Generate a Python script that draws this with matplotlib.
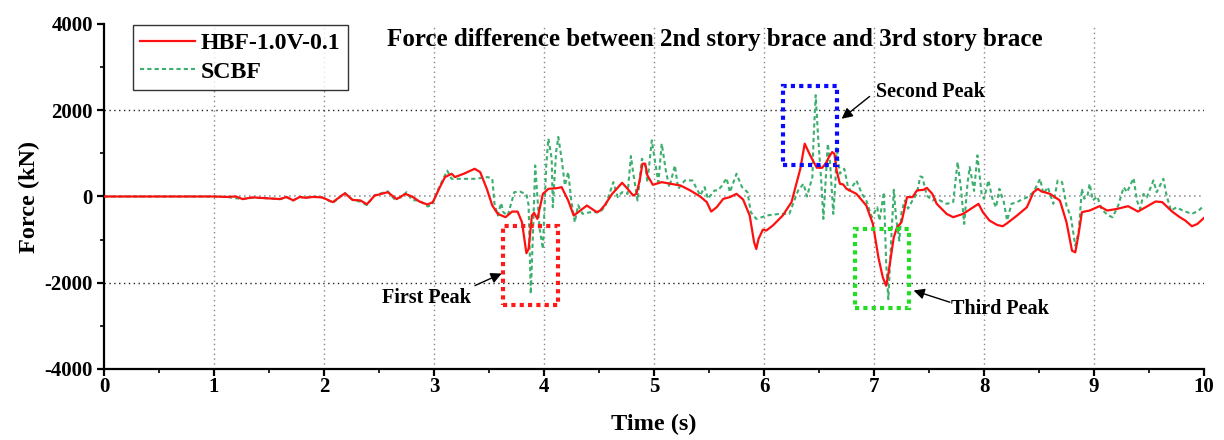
import matplotlib
matplotlib.use("Agg")
import matplotlib.pyplot as plt
from matplotlib.patches import Rectangle
from matplotlib.ticker import MultipleLocator

plt.rcParams['font.family'] = ['Liberation Serif', 'DejaVu Serif']
plt.rcParams['font.weight'] = 'bold'
plt.rcParams['axes.unicode_minus'] = False

# ---------------- data ----------------
t_hbf = [0, 0.5, 1.0, 1.11, 1.2, 1.26, 1.35, 1.48, 1.6, 1.66, 1.72, 1.78, 1.83, 1.9, 1.98,
         2.01, 2.08, 2.19, 2.26, 2.33, 2.39, 2.46, 2.58, 2.66, 2.74, 2.8, 2.87, 2.94, 2.99,
         3.05, 3.10, 3.16, 3.19, 3.27, 3.37, 3.42, 3.48, 3.53, 3.58, 3.65, 3.71, 3.76, 3.80,
         3.84, 3.86, 3.89, 3.91, 3.94, 3.99, 4.04, 4.12, 4.16, 4.22, 4.27, 4.33, 4.39, 4.48,
         4.51, 4.55, 4.62, 4.71, 4.76, 4.81, 4.84, 4.87, 4.895, 4.92, 4.94, 4.99, 5.07, 5.15,
         5.24, 5.33, 5.42, 5.48, 5.52, 5.57, 5.63, 5.69, 5.75, 5.81, 5.87, 5.91, 5.93, 5.95,
         5.99, 6.02, 6.08, 6.17, 6.25, 6.29, 6.33, 6.37, 6.42, 6.48, 6.53, 6.57, 6.59, 6.62,
         6.64, 6.66, 6.69, 6.72, 6.75, 6.84, 6.93, 6.99, 7.04, 7.08, 7.11, 7.13, 7.18, 7.21,
         7.25, 7.30, 7.35, 7.39, 7.45, 7.48, 7.53, 7.57, 7.66, 7.72, 7.81, 7.95, 7.99, 8.05,
         8.12, 8.17, 8.21, 8.30, 8.39, 8.45, 8.49, 8.52, 8.60, 8.69, 8.75, 8.80, 8.83, 8.86,
         8.89, 8.93, 8.96, 9.05, 9.12, 9.21, 9.31, 9.40, 9.48, 9.56, 9.62, 9.71, 9.78, 9.83,
         9.89, 9.94, 10.0]
f_hbf = [0, 0, 0, -10, 0, -60, -20, -40, -60, -10, -90, -10, -30, -10, -20,
         -50, -130, 75, -80, -90, -180, 20, 100, -60, 60, 0, -120, -186, -130,
         200, 450, 527, 450, 527, 643, 565, 178, -209, -403, -480, -350, -350, -597,
         -1315, -1217, -442, -380, -519, 62, 178, 194, 217, -93, -442, -326, -209, -364,
         -326, -209, 62, 318, 178, 23, 62, 372, 760, 760, 488, 271, 333, 295,
         256, 140, 0, -131, -350, -248, -54, -15, 62, -70, -442, -1062, -1217, -985,
         -767, -790, -674, -442, -131, 250, 640, 1225, 953, 667, 667, 798, 915, 1031,
         990, 605, 295, 279, 178, 62, -209, -636, -1411, -1876, -2070, -1798, -946, -713,
         -597, -15, -15, 140, 155, 200, 62, -170, -403, -480, -403, -170, -364, -558,
         -660, -690, -620, -442, -248, 100, 178, 120, 62, -93, -597, -1256, -1295, -868,
         -364, -340, -326, -225, -326, -287, -225, -349, -233, -116, -130, -349, -480, -558,
         -690, -636, -496]

t_scbf = [0, 0.5, 1.0, 1.11, 1.26, 1.35, 1.48, 1.6, 1.66, 1.72, 1.78, 1.83, 1.9, 1.98, 2.01,
          2.08, 2.19, 2.26, 2.33, 2.39, 2.46, 2.58, 2.64, 2.70, 2.75, 2.80, 2.87, 2.94, 2.98,
          3.04, 3.12, 3.16, 3.27, 3.37, 3.49, 3.53, 3.55, 3.58, 3.61, 3.63, 3.67, 3.73, 3.78,
          3.84, 3.86, 3.88, 3.90, 3.92, 3.94, 3.96, 3.99, 4.02, 4.04, 4.07, 4.08, 4.11, 4.13,
          4.16, 4.19, 4.22, 4.25, 4.28, 4.31, 4.35, 4.42, 4.51, 4.56, 4.63, 4.67, 4.71, 4.76,
          4.79, 4.81, 4.85, 4.89, 4.92, 4.94, 4.98, 5.01, 5.04, 5.07, 5.11, 5.14, 5.19, 5.22,
          5.28, 5.35, 5.42, 5.46, 5.49, 5.55, 5.58, 5.62, 5.66, 5.69, 5.75, 5.80, 5.85, 5.88,
          5.93, 5.98, 6.02, 6.14, 6.23, 6.31, 6.36, 6.39, 6.44, 6.45, 6.47, 6.49, 6.52, 6.54,
          6.56, 6.58, 6.60, 6.63, 6.65, 6.66, 6.69, 6.73, 6.77, 6.80, 6.84, 6.89, 6.93, 6.98,
          7.03, 7.05, 7.09, 7.11, 7.13, 7.15, 7.18, 7.20, 7.23, 7.25, 7.28, 7.31, 7.35, 7.39,
          7.42, 7.44, 7.48, 7.53, 7.57, 7.66, 7.72, 7.76, 7.79, 7.82, 7.85, 7.87, 7.91, 7.94,
          7.98, 8.00, 8.04, 8.08, 8.11, 8.14, 8.18, 8.21, 8.25, 8.30, 8.33, 8.39, 8.45, 8.51,
          8.54, 8.58, 8.63, 8.67, 8.71, 8.75, 8.79, 8.83, 8.86, 8.89, 8.91, 8.94, 8.96, 8.99,
          9.03, 9.07, 9.13, 9.17, 9.22, 9.27, 9.30, 9.36, 9.39, 9.42, 9.45, 9.48, 9.54, 9.57,
          9.63, 9.66, 9.70, 9.75, 9.81, 9.89, 9.95, 10.0]
f_scbf = [0, 0, 0, -10, -60, -30, -40, -60, -20, -90, -10, -30, 0, -20, -50,
          -150, 80, -80, -120, -200, 30, 120, -60, -20, 100, -80, -100, -230, -209,
          178, 600, 410, 410, 410, 450, 410, -170, -442, -150, -364, -442, 100, 116,
          50, -200, -2260, -830, 720, 0, -750, -1217, 720, 1341, 876, -248, 1031, 1380,
          876, 256, 566, -131, -597, -200, -403, -364, -364, -209, 333, -15, 100, 62,
          938, 560, -93, 876, 720, 330, 1302, 800, 330, 1225, 560, 217, 720, 178,
          372, 372, 23, 217, -54, 140, 140, 256, 426, 100, 527, 217, 100, -364,
          -519, -480, -442, -403, -403, 140, 295, 0, 450, 1302, 2349, 1457, 372, -519,
          372, 1225, 800, -403, 372, 1147, 530, 643, 140, 217, 372, 62, -93, -480,
          -250, -560, 100, -1500, -2380, -1330, 155, -480, -1023, -366, -93, -280, -90, 62,
          465, 450, 23, -93, -54, -170, -130, 800, 200, -636, 300, 682, 130, 953,
          20, -50, 372, -90, -250, 178, -130, -558, -170, -130, -90, -20, 100, 411,
          60, 217, -170, 372, 330, -210, -480, -1140, -830, 178, -50, 0, 295, -90,
          0, -300, -442, -480, -210, 217, 100, 426, -90, -290, 60, -20, 372, 100,
          411, 20, -330, -250, -330, -403, -330, -209]

series_labels = ['HBF-1.0V-0.1', 'SCBF']
title_text = 'Force difference between 2nd story brace and 3rd story brace'
x_ticks = [0, 1, 2, 3, 4, 5, 6, 7, 8, 9, 10]
y_ticks = [-4000, -2000, 0, 2000, 4000]

# ---------------- figure ----------------
fig = plt.figure(figsize=(12.24, 4.40), dpi=100)
ax = fig.add_axes([104/1224, 1-369/440, 1100/1224, 345/440])

ax.set_xlim(0, 10)
ax.set_ylim(-4000, 4000)

# grid
for xv in x_ticks[1:-1]:
    ax.axvline(xv, color='#888888', ls=(0, (1, 2.5)), lw=1.0, zorder=0)
for yv in (-2000, 2000):
    ax.axhline(yv, color='#222222', ls=(0, (1, 2.5)), lw=1.0, zorder=0)
ax.axhline(0, color='#999999', ls=(0, (1, 2.0)), lw=1.2, zorder=0)

l2, = ax.plot(t_scbf, f_scbf, color='#3cae6e', lw=1.5, ls=(0, (2.0, 1.5)), zorder=2,
              label=series_labels[1])
l1, = ax.plot(t_hbf, f_hbf, color='#ff1010', lw=1.6, zorder=3, label=series_labels[0])

# spines / ticks
for s in ('top', 'right'):
    ax.spines[s].set_visible(False)
for s in ('left', 'bottom'):
    ax.spines[s].set_linewidth(1.6)
ax.set_xticks(x_ticks)
ax.set_yticks(y_ticks)
ax.xaxis.set_minor_locator(MultipleLocator(0.5))
ax.yaxis.set_minor_locator(MultipleLocator(1000))
ax.tick_params(which='major', direction='out', length=5, width=1.6, labelsize=15, pad=3)
ax.tick_params(axis='x', which='major', pad=1)
ax.tick_params(which='minor', direction='out', length=3, width=1.2)
for lab in ax.get_xticklabels() + ax.get_yticklabels():
    lab.set_fontweight('bold')

ax.set_xlabel('Time (s)', fontsize=17.5, fontweight='bold', labelpad=12)
ax.set_ylabel('Force (kN)', fontsize=17.5, fontweight='bold', labelpad=3)

ax.text(0.555, 0.955, title_text, transform=ax.transAxes, fontsize=18,
        fontweight='bold', ha='center', va='center')

leg = ax.legend(handles=[l1, l2], loc='upper left', bbox_to_anchor=(29/1100, 0.997),
                fontsize=17.2, frameon=True, fancybox=False, edgecolor='black',
                handlelength=2.3, handletextpad=0.25, borderpad=0.3, labelspacing=0.3,
                borderaxespad=0)
leg.get_frame().set_linewidth(1.0)
for txt in leg.get_texts():
    txt.set_fontweight('bold')

# highlight boxes
boxes = [((3.63, -2510), 0.50, 1815, '#ff1a1a'),
         ((6.17, 720), 0.495, 1840, '#0a0aff'),
         ((6.83, -2585), 0.485, 1820, '#22dd22')]
for (xy, w, h, c) in boxes:
    ax.add_patch(Rectangle(xy, w, h, fill=False, edgecolor=c, lw=3.0,
                           ls=(0, (1, 1)), zorder=4))

arrow_kw = dict(arrowstyle='-|>', color='black', lw=1.0, mutation_scale=16,
                shrinkA=0, shrinkB=0)
ax.annotate('', xy=(3.615, -1786), xytext=(3.373, -2065), arrowprops=arrow_kw)
ax.annotate('', xy=(6.706, 1803), xytext=(6.96, 2320), arrowprops=arrow_kw)
ax.annotate('', xy=(7.36, -2180), xytext=(7.69, -2452), arrowprops=arrow_kw)
ax.text(2.93, -2343, 'First Peak', fontsize=14.5, fontweight='bold', ha='center', va='center')
ax.text(7.51, 2413, 'Second Peak', fontsize=14.5, fontweight='bold', ha='center', va='center')
ax.text(8.145, -2598, 'Third Peak', fontsize=14.5, fontweight='bold', ha='center', va='center')

fig.savefig('out.png', dpi=100)
